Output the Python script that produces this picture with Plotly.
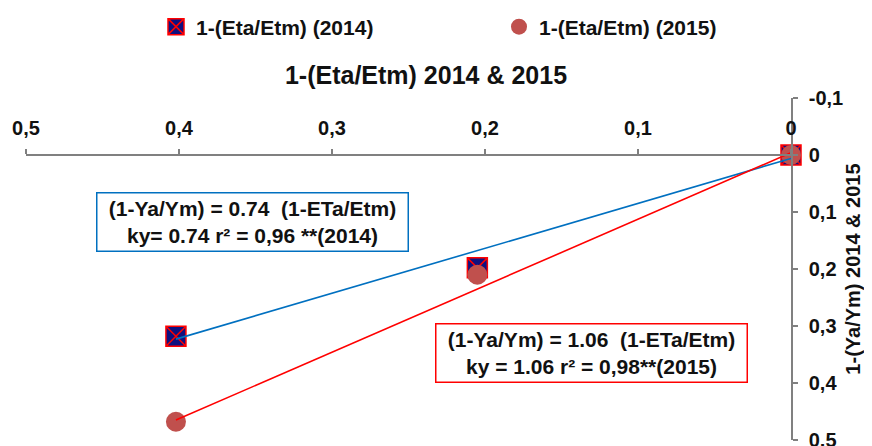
import plotly.graph_objects as go

# Data
eta_2014 = [0.0, 0.205, 0.402]
ya_2014 = [0.0, 0.198, 0.318]
eta_2015 = [0.0, 0.205, 0.402]
ya_2015 = [0.0, 0.21, 0.468]

trend_x = [0.402, 0.0]
trend_2014 = [0.323, 0.006]
trend_2015 = [0.465, -0.004]

x_ticks = [0.5, 0.4, 0.3, 0.2, 0.1, 0.0]
x_ticktext = ["0,5", "0,4", "0,3", "0,2", "0,1", "0"]
y_ticks = [-0.1, 0.0, 0.1, 0.2, 0.3, 0.4, 0.5]
y_ticktext = ["-0,1", "0", "0,1", "0,2", "0,3", "0,4", "0,5"]

FONT = "Liberation Sans"
TXT = "#111111"

fig = go.Figure()

fig.add_trace(go.Scatter(
    x=eta_2014, y=ya_2014, mode="markers", name="1-(Eta/Etm) (2014)",
    marker=dict(symbol="square-x", size=20, color="#10107F",
                line=dict(color="#FF0000", width=1.5)),
    cliponaxis=False,
))
fig.add_trace(go.Scatter(
    x=eta_2015, y=ya_2015, mode="markers", name="1-(Eta/Etm) (2015)",
    marker=dict(symbol="circle", size=20, color="#C0504D"),
    cliponaxis=False,
))
fig.add_trace(go.Scatter(
    x=trend_x, y=trend_2014, mode="lines", showlegend=False,
    line=dict(color="#0070C0", width=1.6), cliponaxis=False,
))
fig.add_trace(go.Scatter(
    x=trend_x, y=trend_2015, mode="lines", showlegend=False,
    line=dict(color="#FF0000", width=1.6), cliponaxis=False,
))

fig.add_annotation(
    x=0.352, y=0.117, xref="x", yref="y", showarrow=False,
    text="(1-Ya/Ym) = 0.74  (1-ETa/Etm)<br>ky= 0.74 r² = 0,96 **(2014)",
    font=dict(family=FONT, size=21, color=TXT, weight="bold"),
    width=304, height=51,
    bordercolor="#0070C0", borderwidth=1.5, borderpad=3, bgcolor="white",
)
fig.add_annotation(
    x=0.1307, y=0.348, xref="x", yref="y", showarrow=False,
    text="(1-Ya/Ym) = 1.06  (1-ETa/Etm)<br>ky = 1.06 r² = 0,98**(2015)",
    font=dict(family=FONT, size=21, color=TXT, weight="bold"),
    width=304, height=51,
    bordercolor="#FF0000", borderwidth=1.5, borderpad=3, bgcolor="white",
)

fig.update_layout(
    width=872, height=446,
    margin=dict(l=18, r=89, t=90, b=14, autoexpand=False),
    paper_bgcolor="white", plot_bgcolor="white",
    font=dict(family=FONT, size=20, color=TXT, weight="bold"),
    title=dict(text="1-(Eta/Etm) 2014 & 2015", x=418 / 872, xanchor="center",
               y=1 - 67 / 446, yanchor="middle", xref="container", yref="container",
               font=dict(family=FONT, size=25, color=TXT, weight="bold")),
    showlegend=True,
    legend=dict(orientation="h", x=(148 - 18) / 765, xanchor="left",
                y=(432 - 19) / 342, yanchor="middle",
                entrywidth=298, entrywidthmode="pixels",
                font=dict(family=FONT, size=21, color=TXT, weight="bold"),
                bgcolor="rgba(0,0,0,0)"),
    xaxis=dict(range=[0.5, 0.0], tickvals=x_ticks, ticktext=x_ticktext,
               side="top", anchor="free", position=0.5 / 0.6, automargin=False,
               showline=True, linecolor="#808080", linewidth=1.5,
               ticks="outside", ticklen=5, tickcolor="#808080", tickwidth=1.5,
               ticklabelstandoff=6,
               showgrid=False, zeroline=False,
               tickfont=dict(family=FONT, size=20, color=TXT, weight="bold")),
    yaxis=dict(range=[0.5, -0.1], tickvals=y_ticks, ticktext=y_ticktext,
               side="right", automargin=False,
               showline=True, linecolor="#808080", linewidth=1.5,
               ticks="outside", ticklen=5, tickcolor="#808080", tickwidth=1.5,
               ticklabelstandoff=7,
               showgrid=False, zeroline=False,
               tickfont=dict(family=FONT, size=20, color=TXT, weight="bold"),
               title=dict(text="1-(Ya/Ym) 2014 & 2015", standoff=4,
                          font=dict(family=FONT, size=20, color=TXT, weight="bold"))),
)

fig.write_html("out.html")
